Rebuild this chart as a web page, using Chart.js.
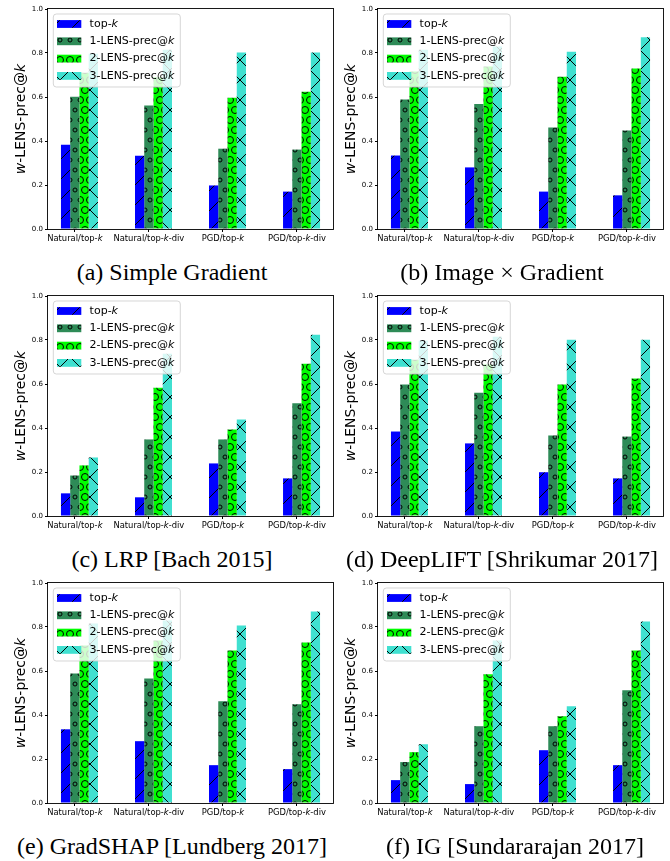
<!DOCTYPE html>
<html>
<head>
<meta charset="utf-8">
<script src="https://cdn.jsdelivr.net/npm/chart.js@4.4.1/dist/chart.umd.min.js"></script>
<style>
    body { margin: 0; background: #fff; }
    #fig { position: relative; width: 670px; height: 861px; overflow: hidden; }
    .panel { position: absolute; width: 336px; height: 249px; }
    .cap {
        position: absolute; width: 340px; text-align: center; white-space: nowrap;
        font-family: "Liberation Serif", "Times New Roman", serif; font-size: 24px; line-height: 24px; color: #000;
    }
</style>
</head>
<body>
<div id="fig"></div>
<script>
// $...$ marks the italic (math) parts, like the matplotlib labels
const categories = ['Natural/top-$k$', 'Natural/top-$k$-div', 'PGD/top-$k$', 'PGD/top-$k$-div'];
const seriesNames = ['top-$k$', '1-LENS-prec@$k$', '2-LENS-prec@$k$', '3-LENS-prec@$k$'];
const seriesColors = ['#0000ff', '#2e8b57', '#00ff00', '#40e0d0'];
const seriesHatches = ['/', 'o', 'O', 'x'];
const yTicks = [0.0, 0.2, 0.4, 0.6, 0.8, 1.0];
const yLabel = '$w$-LENS-prec@$k$';

// rows: top-k, 1-LENS, 2-LENS, 3-LENS ; columns follow categories
const simpleGradient = [
    [0.383, 0.333, 0.198, 0.170],
    [0.601, 0.561, 0.365, 0.361],
    [0.710, 0.690, 0.597, 0.624],
    [0.797, 0.815, 0.802, 0.802]
];
const imageGradient = [
    [0.334, 0.280, 0.170, 0.153],
    [0.589, 0.568, 0.461, 0.448],
    [0.716, 0.739, 0.692, 0.729],
    [0.815, 0.830, 0.806, 0.872]
];
const lrp = [
    [0.103, 0.085, 0.239, 0.171],
    [0.184, 0.348, 0.348, 0.512],
    [0.230, 0.583, 0.393, 0.692],
    [0.266, 0.738, 0.439, 0.824]
];
const deepLift = [
    [0.384, 0.330, 0.199, 0.171],
    [0.598, 0.560, 0.366, 0.361],
    [0.710, 0.690, 0.598, 0.625],
    [0.797, 0.815, 0.801, 0.801]
];
const gradShap = [
    [0.335, 0.281, 0.172, 0.154],
    [0.589, 0.566, 0.462, 0.449],
    [0.716, 0.739, 0.693, 0.730],
    [0.816, 0.830, 0.807, 0.870]
];
const integratedGrad = [
    [0.104, 0.086, 0.240, 0.172],
    [0.186, 0.349, 0.349, 0.512],
    [0.231, 0.585, 0.394, 0.693],
    [0.267, 0.739, 0.440, 0.825]
];

const panels = [
    { values: simpleGradient, caption: '(a) Simple Gradient',           col: 0, row: 0, capX: 172 },
    { values: imageGradient,  caption: '(b) Image \u00d7 Gradient',     col: 1, row: 0, capX: 502 },
    { values: lrp,            caption: '(c) LRP [Bach 2015]',           col: 0, row: 1, capX: 172 },
    { values: deepLift,       caption: '(d) DeepLIFT [Shrikumar 2017]', col: 1, row: 1, capX: 502 },
    { values: gradShap,       caption: '(e) GradSHAP [Lundberg 2017]',  col: 0, row: 2, capX: 172 },
    { values: integratedGrad, caption: '(f) IG [Sundararajan 2017]',    col: 1, row: 2, capX: 515 }
];

const FONT = '"DejaVu Sans", sans-serif';
const HS = 10;          // hatch cell in px
const BAR_W = 0.125;    // bar width in x units (4 bars per group)

// hatch tiles like matplotlib's '/', 'o', 'O', 'x'
function makePattern(color, hatch) {
    const n = 2 * HS;
    const c = document.createElement('canvas');
    c.width = n; c.height = n;
    const g = c.getContext('2d');
    g.fillStyle = color;
    g.fillRect(0, 0, n, n);
    g.strokeStyle = '#000';
    g.lineWidth = 1;
    if (hatch === '/' || hatch === 'x') {
        for (let k = 0; k <= 2; k++) {
            g.beginPath();
            g.moveTo(-5, k * n + 5);
            g.lineTo(n + 5, k * n - n - 5);
            g.stroke();
        }
    }
    if (hatch === 'x') {
        for (let k = -1; k <= 1; k++) {
            g.beginPath();
            g.moveTo(-5, -5 - k * n);
            g.lineTo(n + 5, n + 5 - k * n);
            g.stroke();
        }
    }
    if (hatch === 'o' || hatch === 'O') {
        const r = (hatch === 'o' ? 0.2 : 0.35) * HS;
        const centers = [[0, 0], [HS, 0], [n, 0], [0, n], [HS, n], [n, n], [HS / 2, HS], [HS * 1.5, HS]];
        centers.forEach(([x, y]) => {
            g.beginPath();
            g.arc(x, y, r, 0, Math.PI * 2);
            g.stroke();
        });
    }
    return g.createPattern(c, 'repeat');
}

function drawRich(ctx, str, x, y, size, align) {
    const parts = str.split('$').map((t, i) => [t, i % 2 === 1]).filter(p => p[0]);
    const fontOf = it => (it ? 'italic ' : '') + size + 'px ' + FONT;
    let w = 0;
    parts.forEach(([t, it]) => { ctx.font = fontOf(it); w += ctx.measureText(t).width; });
    let cx = align === 'center' ? x - w / 2 : x;
    ctx.textAlign = 'left';
    ctx.textBaseline = 'middle';
    ctx.fillStyle = '#000';
    parts.forEach(([t, it]) => {
        ctx.font = fontOf(it);
        ctx.fillText(t, cx, y);
        cx += ctx.measureText(t).width;
    });
}

function roundRect(ctx, x, y, w, h, r) {
    ctx.beginPath();
    ctx.moveTo(x + r, y);
    ctx.lineTo(x + w - r, y);
    ctx.arcTo(x + w, y, x + w, y + r, r);
    ctx.lineTo(x + w, y + h - r);
    ctx.arcTo(x + w, y + h, x + w - r, y + h, r);
    ctx.lineTo(x + r, y + h);
    ctx.arcTo(x, y + h, x, y + h - r, r);
    ctx.lineTo(x, y + r);
    ctx.arcTo(x, y, x + r, y, r);
    ctx.closePath();
}

// frame, x tick labels, y title and legend
const decor = {
    id: 'decor',
    afterDatasetsDraw(chart) {
        const ctx = chart.ctx;
        const a = chart.chartArea;
        const xs = chart.scales.x;
        ctx.save();
        ctx.strokeStyle = '#000';
        ctx.lineWidth = 0.9;
        ctx.strokeRect(Math.round(a.left) - 0.5, Math.round(a.top) - 0.5, Math.round(a.right - a.left) + 1, Math.round(a.bottom - a.top) + 1);

        categories.forEach((c, i) => {
            drawRich(ctx, c, xs.getPixelForValue(i - BAR_W / 2), a.bottom + 9.5, 8.4, 'center');
        });

        ctx.save();
        ctx.translate(21.5, (a.top + a.bottom) / 2);
        ctx.rotate(-Math.PI / 2);
        drawRich(ctx, yLabel, 0, 0, 14, 'center');
        ctx.restore();

        // legend, upper left
        const bx = a.left + 5.3, by = a.top + 5, bw = 127, bh = 73;
        roundRect(ctx, bx, by, bw, bh, 3);
        ctx.fillStyle = 'rgba(255,255,255,0.8)';
        ctx.fill();
        ctx.strokeStyle = 'rgba(204,204,204,0.8)';
        ctx.lineWidth = 1;
        ctx.stroke();
        chart.data.datasets.forEach((ds, k) => {
            const cy = by + 10 + 17.3 * k;
            ctx.fillStyle = ds.backgroundColor;
            ctx.fillRect(bx + 3.7, cy - 3.9, 24.3, 7.8);
            drawRich(ctx, ds.label, bx + 36.3, cy, 11, 'left');
        });
        ctx.restore();
    }
};

const fig = document.getElementById('fig');
const patterns = seriesColors.map((c, k) => makePattern(c, seriesHatches[k]));

panels.forEach(p => {
    const div = document.createElement('div');
    div.className = 'panel';
    div.style.left = (p.col * 330) + 'px';
    div.style.top = (p.row * 287) + 'px';
    const canvas = document.createElement('canvas');
    div.appendChild(canvas);
    fig.appendChild(div);

    const cap = document.createElement('div');
    cap.className = 'cap';
    cap.textContent = p.caption;
    cap.style.left = (p.capX - 170) + 'px';
    cap.style.top = (260 + p.row * 287) + 'px';
    fig.appendChild(cap);

    new Chart(canvas, {
        type: 'bar',
        data: {
            datasets: seriesNames.map((name, k) => ({
                label: name,
                data: p.values[k].map((v, i) => ({ x: i, y: v })),
                backgroundColor: patterns[k],
                borderWidth: 0,
                categoryPercentage: 4 * BAR_W,
                barPercentage: 1.0,
            }))
        },
        options: {
            responsive: true,
            maintainAspectRatio: false,
            animation: false,
            layout: { padding: { left: 0, right: 3, top: 9, bottom: 0 } },
            plugins: { legend: { display: false }, tooltip: { enabled: false } },
            scales: {
                x: {
                    type: 'linear',
                    offset: false,
                    min: -0.425,
                    max: 3.425,
                    afterBuildTicks: s => { s.ticks = categories.map((c, i) => ({ value: i - BAR_W / 2 })); },
                    ticks: { display: false },
                    grid: { offset: false, drawOnChartArea: false, drawTicks: true, tickLength: 3, color: '#000' },
                    border: { display: false },
                    afterFit: s => { s.height = 20; }
                },
                y: {
                    min: 0,
                    max: 1,
                    afterBuildTicks: s => { s.ticks = yTicks.map(v => ({ value: v })); },
                    ticks: { font: { family: FONT, size: 7 }, color: '#000', padding: 2, callback: v => v.toFixed(1) },
                    grid: { drawOnChartArea: false, drawTicks: true, tickLength: 3, color: '#000' },
                    border: { display: false },
                    afterFit: s => { s.width = 48; }
                }
            }
        },
        plugins: [decor]
    });
});
</script>
</body>
</html>
